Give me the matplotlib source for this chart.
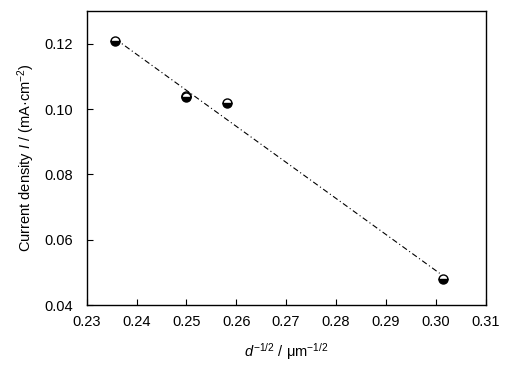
import numpy as np
import matplotlib
matplotlib.use('Agg')
import matplotlib.pyplot as plt

# data
d_inv_sqrt = [0.2357, 0.2500, 0.2500, 0.2582, 0.3015]
current = [0.1208, 0.1041, 0.1036, 0.1017, 0.0479]

# fitted line end points
fit_x = [0.2357, 0.3008]
fit_y = [0.1215, 0.0497]

xticks = [0.23, 0.24, 0.25, 0.26, 0.27, 0.28, 0.29, 0.30, 0.31]
yticks = [0.04, 0.06, 0.08, 0.10, 0.12]

plt.rcParams['font.family'] = ['Liberation Sans', 'DejaVu Sans']
plt.rcParams['mathtext.fontset'] = 'custom'
plt.rcParams['mathtext.rm'] = 'Liberation Sans'
plt.rcParams['mathtext.it'] = 'Liberation Sans:italic'

fig = plt.figure(figsize=(5.23, 3.73), dpi=100)
ax = fig.add_axes([0.1658, 0.1823, 0.7625, 0.7882])

ax.plot(fit_x, fit_y, color='black', linewidth=0.8, linestyle=(0, (5, 2.5, 1, 2.5)))
ax.plot(d_inv_sqrt, current, linestyle='none', marker='o', markersize=6.5,
        fillstyle='bottom', markerfacecolor='black', markerfacecoloralt='white',
        markeredgecolor='black', markeredgewidth=1.0)

ax.set_xlim(0.23, 0.31)
ax.set_ylim(0.04, 0.13)
ax.set_xticks(xticks)
ax.set_xticklabels(['%.2f' % v for v in xticks])
ax.set_yticks(yticks)
ax.set_yticklabels(['%.2f' % v for v in yticks])
ax.tick_params(direction='in', length=4.5, width=0.8, labelsize=10.5)
ax.tick_params(axis='x', pad=7)
ax.tick_params(axis='y', pad=10)

for s in ax.spines.values():
    s.set_linewidth(1.0)

ax.set_xlabel(r'$d^{-1/2}$ / μm$^{-1/2}$', fontsize=10.5, labelpad=9)
ax.set_ylabel(r'Current density $I$ / (mA·cm$^{-2}$)', fontsize=10.5, labelpad=5)

fig.savefig('out.png', dpi=100)
